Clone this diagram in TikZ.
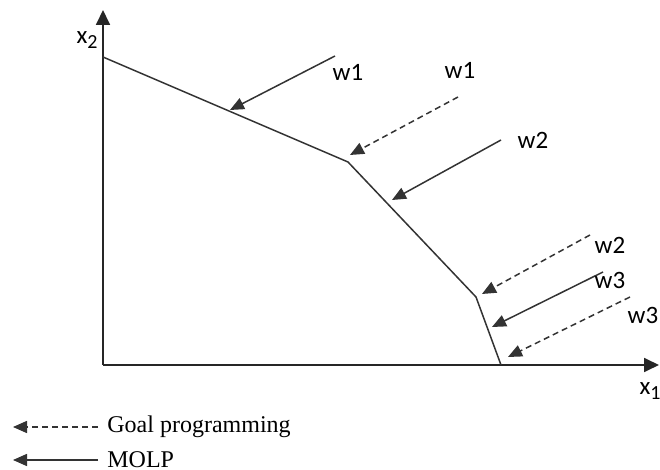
\documentclass[tikz,border=0pt]{standalone}
\usepackage{fontspec}
\setmainfont{Liberation Serif}
\newfontfamily\calibri{Carlito}
\usetikzlibrary{arrows.meta}
\newcommand{\lowsub}[1]{\raisebox{-0.45ex}{\fontsize{10}{12}\selectfont #1}}

\begin{document}
\begin{tikzpicture}[
  x=0.5pt,y=-0.5pt,
  every node/.style={font=\fontsize{12}{14}\selectfont},
  wlabel/.style={font=\calibri\fontsize{12.5}{14}\selectfont, inner sep=0pt},
  axis/.style={-{Triangle[length=7.5pt,width=7pt]}, line width=0.9pt, draw=black!85},
  front/.style={line width=0.75pt, draw=black!80},
  molp/.style={-{Triangle[length=7pt,width=6pt]}, line width=0.75pt, draw=black!80},
  goal/.style={-{Triangle[length=7pt,width=6pt]}, line width=0.75pt, draw=black!80, dash pattern=on 3pt off 2pt}
]
\useasboundingbox (0,0) rectangle (660,470);

% axes
\coordinate (origin) at (103,365);
\coordinate (ytop) at (103,10);
\coordinate (xend) at (659,365);
\draw[axis] (origin) -- (ytop);
\draw[axis] (origin) -- (xend);
\node[wlabel] (xtwo) at (87,40) {x\lowsub{2}};
\node[wlabel] (xone) at (650,391) {x\lowsub{1}};

% efficient frontier
\coordinate (v0) at (103,57);
\coordinate (v1) at (348,162);
\coordinate (v2) at (476,297);
\coordinate (v3) at (501,365);
\draw[front] (v0) -- (v1) -- (v2) -- (v3);

% MOLP directions
\coordinate (m1s) at (335,56);  \coordinate (m1e) at (230,110);
\coordinate (m2s) at (501,140); \coordinate (m2e) at (392,200);
\coordinate (m3s) at (603,272); \coordinate (m3e) at (492,327);
\draw[molp] (m1s) -- (m1e);
\draw[molp] (m2s) -- (m2e);
\draw[molp] (m3s) -- (m3e);

% goal programming directions
\coordinate (g1s) at (458,97);  \coordinate (g1e) at (350,155);
\coordinate (g2s) at (590,235); \coordinate (g2e) at (482,294);
\coordinate (g3s) at (630,297); \coordinate (g3e) at (508,357);
\draw[goal] (g1s) -- (g1e);
\draw[goal] (g2s) -- (g2e);
\draw[goal] (g3s) -- (g3e);

% weights
\node[wlabel] (wm1) at (348,72) {w1};
\node[wlabel] (wg1) at (460,70) {w1};
\node[wlabel] (wm2) at (533,140) {w2};
\node[wlabel] (wg2) at (610,245) {w2};
\node[wlabel] (wm3) at (610,280) {w3};
\node[wlabel] (wg3) at (643,315) {w3};

% legend
\coordinate (lg1s) at (98,427); \coordinate (lg1e) at (13,427);
\coordinate (lg2s) at (98,460); \coordinate (lg2e) at (13,460);
\draw[goal] (lg1s) -- (lg1e);
\draw[molp] (lg2s) -- (lg2e);
\node[anchor=west, inner sep=0pt] (goaltext) at (107,427) {Goal programming};
\node[anchor=west, inner sep=0pt] (moltext) at (107,460) {MOLP};
\end{tikzpicture}
\end{document}
